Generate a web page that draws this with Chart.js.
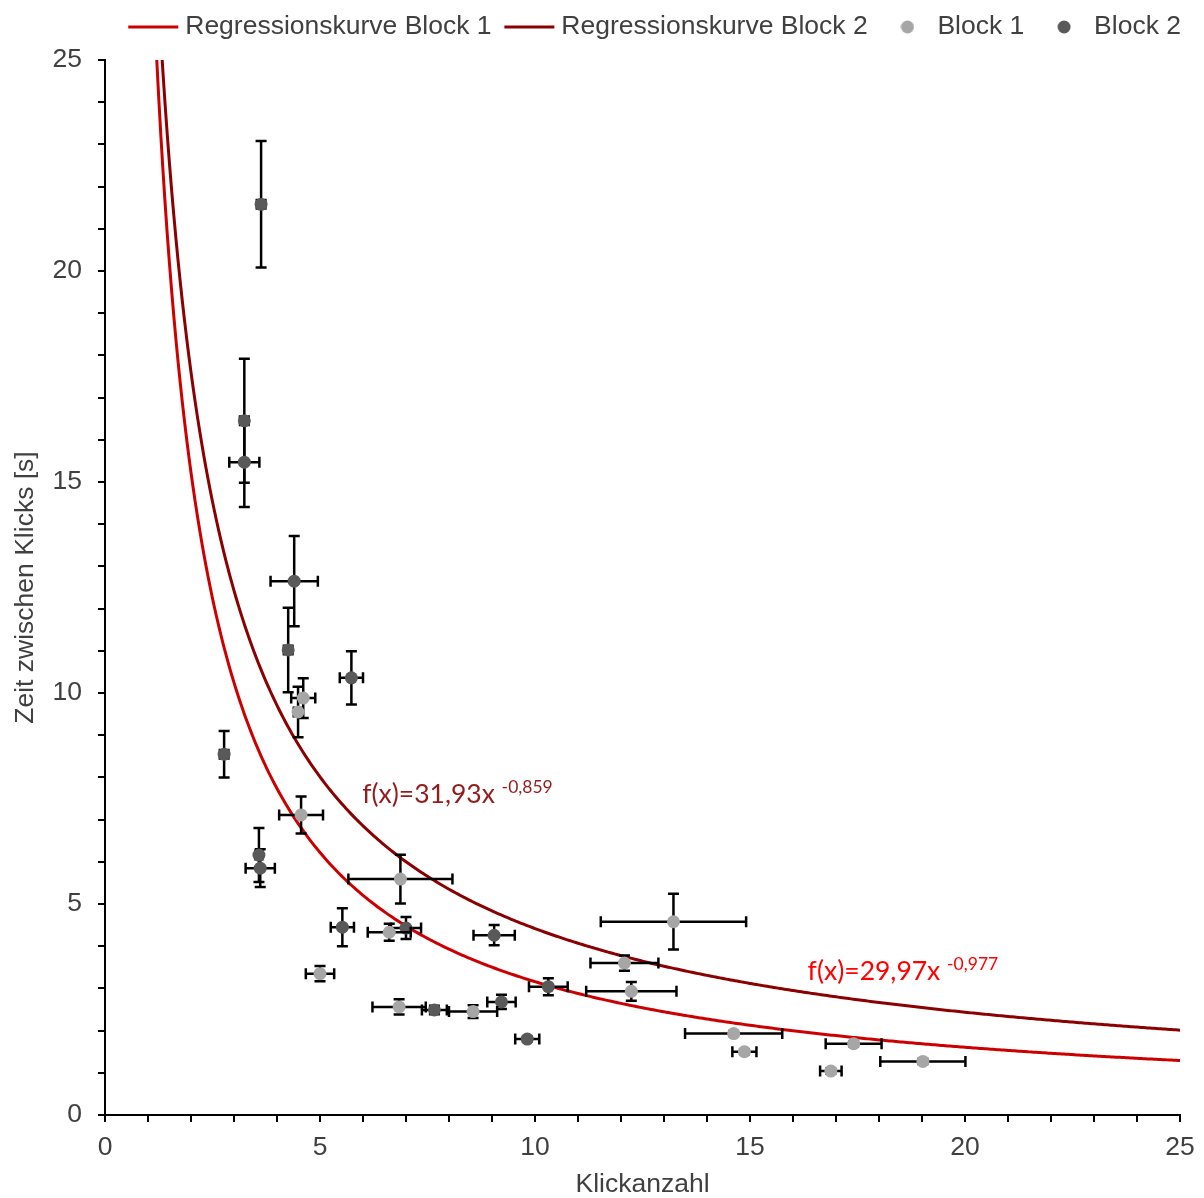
<!DOCTYPE html>
<html>
<head>
<meta charset="utf-8">
<script src="https://cdn.jsdelivr.net/npm/chart.js@4/dist/chart.umd.min.js"></script>
<style>
html,body{margin:0;padding:0;background:#fff;}
canvas{display:block;}
</style>
</head>
<body>
<canvas id="c" width="1204" height="1198"></canvas>
<script>
// ---------- DATA ----------
const seriesNames = ['Regressionskurve Block 1', 'Regressionskurve Block 2', 'Block 1', 'Block 2'];

// Block 1 (light grey)
const block1X    = [4.61, 4.49, 4.56, 6.87, 6.61, 5.00, 6.84, 8.56, 13.22, 12.08, 12.24, 14.62, 14.87, 16.88, 17.41, 19.02];
const block1Y    = [9.88, 9.55, 7.11, 5.59, 4.33, 3.35, 2.56, 2.45, 4.58, 3.60, 2.93, 1.93, 1.50, 1.04, 1.69, 1.27];
const block1XErr = [0.28, 0.10, 0.51, 1.21, 0.50, 0.33, 0.62, 0.56, 1.69, 0.79, 1.05, 1.13, 0.28, 0.25, 0.65, 0.99];
const block1YErr = [0.47, 0.60, 0.44, 0.58, 0.20, 0.18, 0.18, 0.15, 0.66, 0.18, 0.22, 0.06, 0.06, 0.06, 0.06, 0.06];

// Block 2 (dark grey)
const block2X    = [3.63, 3.24, 3.24, 4.40, 4.26, 5.73, 2.77, 3.58, 3.61, 5.52, 7.00, 9.05, 10.31, 7.66, 9.22, 9.82];
const block2Y    = [21.58, 16.45, 15.47, 12.65, 11.02, 10.36, 8.55, 6.16, 5.85, 4.45, 4.43, 4.26, 3.04, 2.49, 2.68, 1.80];
const block2XErr = [0.10, 0.10, 0.35, 0.55, 0.10, 0.27, 0.10, 0.08, 0.34, 0.27, 0.35, 0.48, 0.45, 0.29, 0.33, 0.28];
const block2YErr = [1.50, 1.47, 1.06, 1.07, 1.00, 0.63, 0.55, 0.64, 0.45, 0.45, 0.26, 0.24, 0.20, 0.10, 0.17, 0.06];

// Regression curves f(x) = a * x^b  (Block 1, Block 2)
const regCoefA = [29.97, 31.93];
const regExpB  = [-0.977, -0.859];
const regLabelMain = ['f(x)=29,97x', 'f(x)=31,93x'];
const regLabelSup  = ['-0,977', '-0,859'];
const regLabelX = [16.34, 5.98];
const regLabelY = [3.20, 7.39];
const curveX = Array.from({length: 481}, (_, i) => 1 + i * 0.05);

const xTickLabels = [0, 5, 10, 15, 20, 25];
const yTickLabels = [0, 5, 10, 15, 20, 25];
const xTitle = 'Klickanzahl';
const yTitle = 'Zeit zwischen Klicks [s]';

// ---------- STYLE ----------
const FONT = "'Liberation Sans', Arial, sans-serif";
const FS = 26.5;
const TXT = '#404040';
const curveColors = ['#cc0000', '#8b0000'];
const labelColors = ['#ff0000', '#931c1c'];
const pointColors = ['#a6a6a6', '#595959'];
const LEG_W = 33.5;
const LEG_SHIFT = -9.75;

function lineImg(color) {
  const c = document.createElement('canvas');
  c.width = 56; c.height = 4;
  const g = c.getContext('2d');
  g.strokeStyle = color; g.lineWidth = 3;
  g.beginPath(); g.moveTo(1, 2); g.lineTo(51, 2); g.stroke();
  return c;
}
function dotImg(color) {
  const c = document.createElement('canvas');
  c.width = 14; c.height = 14;
  const g = c.getContext('2d');
  g.fillStyle = color;
  g.beginPath(); g.arc(7, 7, 6.5, 0, Math.PI * 2); g.fill();
  return c;
}
const legendImgs = [lineImg(curveColors[0]), lineImg(curveColors[1]), dotImg(pointColors[0]), dotImg(pointColors[1])];

const curve1 = curveX.map(x => ({x, y: regCoefA[0] * Math.pow(x, regExpB[0])}));
const curve2 = curveX.map(x => ({x, y: regCoefA[1] * Math.pow(x, regExpB[1])}));
const pts1 = block1X.map((x, i) => ({x, y: block1Y[i]}));
const pts2 = block2X.map((x, i) => ({x, y: block2Y[i]}));

const legendShift = {
  id: 'legendShift',
  afterLayout(chart) {
    if (chart.legend) {
      chart.legend.top += LEG_SHIFT;
      chart.legend.bottom += LEG_SHIFT;
    }
  }
};

const errorBars = {
  id: 'errorBars',
  beforeDatasetDraw(chart, args) {
    const ds = chart.data.datasets[args.index];
    if (!ds.errX) return;
    const xs = chart.scales.x, ys = chart.scales.y, ctx = chart.ctx;
    const cap = 5.5;
    ctx.save();
    ctx.strokeStyle = '#000';
    ctx.lineWidth = 2.5;
    ds.data.forEach((p, i) => {
      const ex = ds.errX[i], ey = ds.errY[i];
      const px = xs.getPixelForValue(p.x), py = ys.getPixelForValue(p.y);
      const xl = xs.getPixelForValue(p.x - ex), xr = xs.getPixelForValue(p.x + ex);
      const yt = ys.getPixelForValue(p.y + ey), yb = ys.getPixelForValue(p.y - ey);
      ctx.beginPath();
      ctx.moveTo(xl, py); ctx.lineTo(xr, py);
      ctx.moveTo(xl, py - cap); ctx.lineTo(xl, py + cap);
      ctx.moveTo(xr, py - cap); ctx.lineTo(xr, py + cap);
      ctx.moveTo(px, yt); ctx.lineTo(px, yb);
      ctx.moveTo(px - cap, yt); ctx.lineTo(px + cap, yt);
      ctx.moveTo(px - cap, yb); ctx.lineTo(px + cap, yb);
      ctx.stroke();
    });
    ctx.restore();
  }
};

const regLabels = {
  id: 'regLabels',
  afterDatasetsDraw(chart) {
    const xs = chart.scales.x, ys = chart.scales.y, ctx = chart.ctx;
    ctx.save();
    ctx.textBaseline = 'alphabetic';
    ctx.textAlign = 'left';
    for (let i = 0; i < regLabelMain.length; i++) {
      const px = xs.getPixelForValue(regLabelX[i]);
      const py = ys.getPixelForValue(regLabelY[i]);
      ctx.fillStyle = labelColors[i];
      ctx.font = "26.5px Lato, 'Open Sans', sans-serif";
      ctx.fillText(regLabelMain[i], px, py);
      const w = ctx.measureText(regLabelMain[i] + ' ').width;
      ctx.font = "17.5px Lato, 'Open Sans', sans-serif";
      ctx.fillText(regLabelSup[i], px + w, py - 10);
    }
    ctx.restore();
  }
};

new Chart(document.getElementById('c'), {
  type: 'scatter',
  data: {
    datasets: [
      {label: seriesNames[0], data: curve1, showLine: true, borderColor: curveColors[0], backgroundColor: curveColors[0], borderWidth: 3, pointRadius: 0, pointHoverRadius: 0, tension: 0, order: 1},
      {label: seriesNames[1], data: curve2, showLine: true, borderColor: curveColors[1], backgroundColor: curveColors[1], borderWidth: 3, pointRadius: 0, pointHoverRadius: 0, tension: 0, order: 1},
      {label: seriesNames[2], data: pts1, backgroundColor: pointColors[0], borderWidth: 0, pointRadius: 6.5, order: 0, errX: block1XErr, errY: block1YErr},
      {label: seriesNames[3], data: pts2, backgroundColor: pointColors[1], borderWidth: 0, pointRadius: 6.5, order: 0, errX: block2XErr, errY: block2YErr}
    ]
  },
  options: {
    responsive: false,
    animation: false,
    devicePixelRatio: 1,
    layout: {padding: {top: 0, left: 0, right: 0, bottom: 0}},
    plugins: {
      tooltip: {enabled: false},
      legend: {
        display: true,
        position: 'top',
        align: 'end',
        labels: {
          usePointStyle: true,
          pointStyleWidth: LEG_W,
          padding: 23,
          color: TXT,
          font: {family: FONT, size: FS},
          generateLabels(chart) {
            return chart.data.datasets.map((ds, i) => ({
              text: ds.label, datasetIndex: i, pointStyle: legendImgs[i],
              fillStyle: 'transparent', strokeStyle: 'transparent', lineWidth: 0,
              hidden: false, fontColor: TXT
            }));
          }
        }
      }
    },
    scales: {
      x: {
        type: 'linear', min: 0, max: 25,
        ticks: {
          stepSize: 1, autoSkip: false, maxRotation: 0, padding: 10,
          color: TXT, font: {family: FONT, size: FS},
          callback: v => (xTickLabels.includes(v) ? String(v) : '')
        },
        grid: {display: true, drawOnChartArea: false, drawTicks: true, tickLength: 7, color: '#000', lineWidth: 2},
        border: {display: true, color: '#000', width: 2},
        title: {display: true, text: xTitle, color: TXT, font: {family: FONT, size: FS, lineHeight: 1}, padding: {top: 0, bottom: 0}},
        afterFit(s) { s.height = 83; s.paddingRight = 24; }
      },
      y: {
        type: 'linear', min: 0, max: 25,
        ticks: {
          stepSize: 1, autoSkip: false, padding: 16,
          color: TXT, font: {family: FONT, size: FS},
          callback: v => (yTickLabels.includes(v) ? String(v) : '')
        },
        grid: {display: true, drawOnChartArea: false, drawTicks: true, tickLength: 7, color: '#000', lineWidth: 2},
        border: {display: true, color: '#000', width: 2},
        title: {display: true, text: yTitle, color: TXT, font: {family: FONT, size: FS, lineHeight: 1}, padding: {top: 12, bottom: 0}},
        afterFit(s) { s.width = 105; s.paddingTop = 60; }
      }
    }
  },
  plugins: [legendShift, errorBars, regLabels]
});
</script>
</body>
</html>
